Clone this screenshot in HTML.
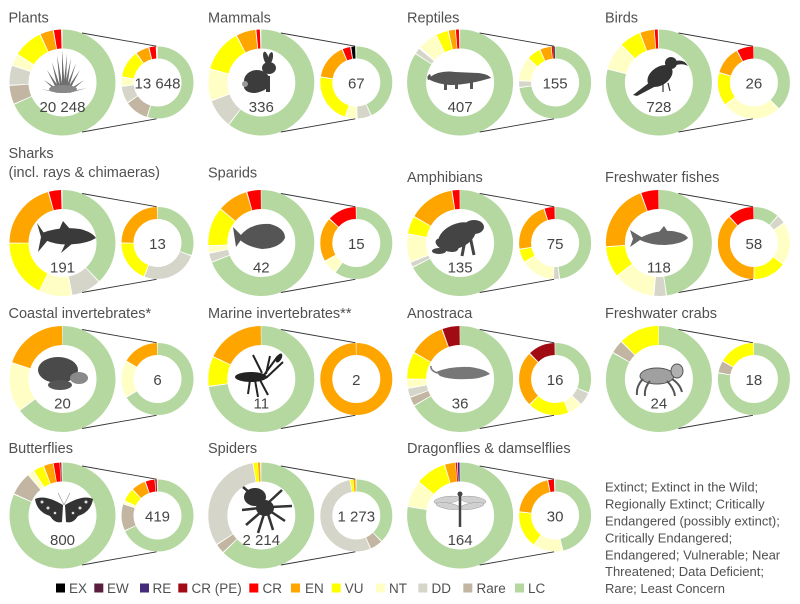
<!DOCTYPE html>
<html><head><meta charset="utf-8"><style>
html,body{margin:0;padding:0;background:#fff;}
svg{display:block;font-family:"Liberation Sans",sans-serif;}
.B circle{fill:none;stroke-width:25.03}
.S circle{fill:none;stroke-width:22.92}
.t{font-size:14.5px;fill:#505050}
.n{font-size:15px;fill:#454545;text-anchor:middle}
.l{font-size:13.5px;fill:#505050}
.d{font-size:13px;fill:#505050}
.ln{stroke:#333;stroke-width:0.9;fill:none}
</style></head><body>
<svg width="800" height="604" viewBox="0 0 800 604" xmlns="http://www.w3.org/2000/svg">
<rect width="800" height="604" fill="#fff"/>

<!-- connector lines -->
<g class="ln">
<path d="M82,33 L156.5,46.2 M82,132 L156.5,118.8"/>
<path d="M280.8,33 L355.3,46.2 M280.8,132 L355.3,118.8"/>
<path d="M479.6,33 L554.1,46.2 M479.6,132 L554.1,118.8"/>
<path d="M678.4,33 L752.9,46.2 M678.4,132 L752.9,118.8"/>
<path d="M82,193.5 L156.5,206.7 M82,292.5 L156.5,279.3"/>
<path d="M280.8,193.5 L355.3,206.7 M280.8,292.5 L355.3,279.3"/>
<path d="M479.6,193.5 L554.1,206.7 M479.6,292.5 L554.1,279.3"/>
<path d="M678.4,193.5 L752.9,206.7 M678.4,292.5 L752.9,279.3"/>
<path d="M82,329.5 L156.5,342.7 M82,428.5 L156.5,415.3"/>
<path d="M280.8,329.5 L355.3,342.7 M280.8,428.5 L355.3,415.3"/>
<path d="M479.6,329.5 L554.1,342.7 M479.6,428.5 L554.1,415.3"/>
<path d="M678.4,329.5 L752.9,342.7 M678.4,428.5 L752.9,415.3"/>
<path d="M82,466 L156.5,479.2 M82,565 L156.5,551.8"/>
<path d="M280.8,466 L355.3,479.2 M280.8,565 L355.3,551.8"/>
<path d="M479.6,466 L554.1,479.2 M479.6,565 L554.1,551.8"/>
</g>

<!-- ROW 1 -->
<g class="B" transform="translate(62.5,82.5) scale(-0.75922,0.75922) rotate(-90)">
<circle r="57.2958" stroke="#f00" stroke-dasharray="7.8 400" stroke-dashoffset="-1.6"/>
<circle r="57.2958" stroke="#ffa500" stroke-dasharray="13.8 400" stroke-dashoffset="-10.6"/>
<circle r="57.2958" stroke="#ff0" stroke-dasharray="31.8 400" stroke-dashoffset="-25.6"/>
<circle r="57.2958" stroke="#ffffc5" stroke-dasharray="11.8 400" stroke-dashoffset="-58.6"/>
<circle r="57.2958" stroke="#d5d5c9" stroke-dasharray="20.8 400" stroke-dashoffset="-71.6"/>
<circle r="57.2958" stroke="#c2b6a3" stroke-dasharray="19.8 400" stroke-dashoffset="-93.6"/>
<circle r="57.2958" stroke="#b4d8a0" stroke-dasharray="244.8 400" stroke-dashoffset="-114.6"/>
</g>
<g class="S" transform="translate(157.5,82.5) scale(-0.5236,0.5236) rotate(-90)">
<circle r="57.2958" stroke="#f00" stroke-dasharray="10.2 400" stroke-dashoffset="-2.9"/>
<circle r="57.2958" stroke="#ffa500" stroke-dasharray="20.2 400" stroke-dashoffset="-14.9"/>
<circle r="57.2958" stroke="#ff0" stroke-dasharray="43.2 400" stroke-dashoffset="-36.9"/>
<circle r="57.2958" stroke="#ffffc5" stroke-dasharray="13.2 400" stroke-dashoffset="-81.9"/>
<circle r="57.2958" stroke="#d5d5c9" stroke-dasharray="26.2 400" stroke-dashoffset="-96.9"/>
<circle r="57.2958" stroke="#c2b6a3" stroke-dasharray="37.2 400" stroke-dashoffset="-124.9"/>
<circle r="57.2958" stroke="#b4d8a0" stroke-dasharray="195.2 400" stroke-dashoffset="-163.9"/>
</g>
<g class="B" transform="translate(261.3,82.5) scale(-0.75922,0.75922) rotate(-90)">
<circle r="57.2958" stroke="#f00" stroke-dasharray="3.8 400" stroke-dashoffset="-1.6"/>
<circle r="57.2958" stroke="#ffa500" stroke-dasharray="20.8 400" stroke-dashoffset="-6.6"/>
<circle r="57.2958" stroke="#ff0" stroke-dasharray="45.8 400" stroke-dashoffset="-28.6"/>
<circle r="57.2958" stroke="#ffffc5" stroke-dasharray="33.8 400" stroke-dashoffset="-75.6"/>
<circle r="57.2958" stroke="#d5d5c9" stroke-dasharray="30.8 400" stroke-dashoffset="-110.6"/>
<circle r="57.2958" stroke="#b4d8a0" stroke-dasharray="216.8 400" stroke-dashoffset="-142.6"/>
</g>
<g class="S" transform="translate(356.3,82.5) scale(-0.5236,0.5236) rotate(-90)">
<circle r="57.2958" stroke="#000" stroke-dasharray="6.2 400" stroke-dashoffset="-1.9"/>
<circle r="57.2958" stroke="#f00" stroke-dasharray="12.2 400" stroke-dashoffset="-9.9"/>
<circle r="57.2958" stroke="#ffa500" stroke-dasharray="56.2 400" stroke-dashoffset="-23.9"/>
<circle r="57.2958" stroke="#ff0" stroke-dasharray="79.2 400" stroke-dashoffset="-81.9"/>
<circle r="57.2958" stroke="#ffffc5" stroke-dasharray="17.2 400" stroke-dashoffset="-162.9"/>
<circle r="57.2958" stroke="#d5d5c9" stroke-dasharray="21.2 400" stroke-dashoffset="-181.9"/>
<circle r="57.2958" stroke="#b4d8a0" stroke-dasharray="154.2 400" stroke-dashoffset="-204.9"/>
</g>
<g class="B" transform="translate(460.1,82.5) scale(-0.75922,0.75922) rotate(-90)">
<circle r="57.2958" stroke="#f00" stroke-dasharray="3.4 400" stroke-dashoffset="-1.3"/>
<circle r="57.2958" stroke="#ffa500" stroke-dasharray="6.8 400" stroke-dashoffset="-5.6"/>
<circle r="57.2958" stroke="#ff0" stroke-dasharray="12.8 400" stroke-dashoffset="-13.6"/>
<circle r="57.2958" stroke="#ffffc5" stroke-dasharray="20.8 400" stroke-dashoffset="-27.6"/>
<circle r="57.2958" stroke="#d5d5c9" stroke-dasharray="5.8 400" stroke-dashoffset="-50.6"/>
<circle r="57.2958" stroke="#b4d8a0" stroke-dasharray="301.8 400" stroke-dashoffset="-57.6"/>
</g>
<g class="S" transform="translate(555.1,82.5) scale(-0.5236,0.5236) rotate(-90)">
<circle r="57.2958" stroke="#000" stroke-dasharray="2.0 400" stroke-dashoffset="-0.8"/>
<circle r="57.2958" stroke="#f00" stroke-dasharray="2.4 400" stroke-dashoffset="-3.3"/>
<circle r="57.2958" stroke="#ffa500" stroke-dasharray="17.2 400" stroke-dashoffset="-6.9"/>
<circle r="57.2958" stroke="#ff0" stroke-dasharray="21.2 400" stroke-dashoffset="-25.9"/>
<circle r="57.2958" stroke="#ffffc5" stroke-dasharray="37.2 400" stroke-dashoffset="-48.9"/>
<circle r="57.2958" stroke="#d5d5c9" stroke-dasharray="9.2 400" stroke-dashoffset="-87.9"/>
<circle r="57.2958" stroke="#b4d8a0" stroke-dasharray="260.2 400" stroke-dashoffset="-98.9"/>
</g>
<g class="B" transform="translate(658.9,82.5) scale(-0.75922,0.75922) rotate(-90)">
<circle r="57.2958" stroke="#f00" stroke-dasharray="3.4 400" stroke-dashoffset="-1.3"/>
<circle r="57.2958" stroke="#ffa500" stroke-dasharray="14.8 400" stroke-dashoffset="-5.6"/>
<circle r="57.2958" stroke="#ff0" stroke-dasharray="22.8 400" stroke-dashoffset="-21.6"/>
<circle r="57.2958" stroke="#ffffc5" stroke-dasharray="28.8 400" stroke-dashoffset="-45.6"/>
<circle r="57.2958" stroke="#b4d8a0" stroke-dasharray="283.8 400" stroke-dashoffset="-75.6"/>
</g>
<g class="S" transform="translate(753.9,82.5) scale(-0.5236,0.5236) rotate(-90)">
<circle r="57.2958" stroke="#f00" stroke-dasharray="26.2 400" stroke-dashoffset="-0.9"/>
<circle r="57.2958" stroke="#ffa500" stroke-dasharray="44.2 400" stroke-dashoffset="-28.9"/>
<circle r="57.2958" stroke="#ff0" stroke-dasharray="52.2 400" stroke-dashoffset="-74.9"/>
<circle r="57.2958" stroke="#ffffc5" stroke-dasharray="93.2 400" stroke-dashoffset="-128.9"/>
<circle r="57.2958" stroke="#b4d8a0" stroke-dasharray="135.2 400" stroke-dashoffset="-223.9"/>
</g>

<!-- ROW 2 -->
<g class="B" transform="translate(62.5,243) scale(-0.75922,0.75922) rotate(-90)">
<circle r="57.2958" stroke="#f00" stroke-dasharray="13.3 400" stroke-dashoffset="-1.6"/>
<circle r="57.2958" stroke="#ffa500" stroke-dasharray="73.3 400" stroke-dashoffset="-16.1"/>
<circle r="57.2958" stroke="#ff0" stroke-dasharray="62.8 400" stroke-dashoffset="-90.6"/>
<circle r="57.2958" stroke="#ffffc5" stroke-dasharray="34.8 400" stroke-dashoffset="-154.6"/>
<circle r="57.2958" stroke="#d5d5c9" stroke-dasharray="31.8 400" stroke-dashoffset="-190.6"/>
<circle r="57.2958" stroke="#b4d8a0" stroke-dasharray="135.8 400" stroke-dashoffset="-223.6"/>
</g>
<g class="S" transform="translate(157.5,243) scale(-0.5236,0.5236) rotate(-90)">
<circle r="57.2958" stroke="#ffa500" stroke-dasharray="88.2 400" stroke-dashoffset="-0.9"/>
<circle r="57.2958" stroke="#ff0" stroke-dasharray="66.2 400" stroke-dashoffset="-90.9"/>
<circle r="57.2958" stroke="#d5d5c9" stroke-dasharray="89.2 400" stroke-dashoffset="-158.9"/>
<circle r="57.2958" stroke="#b4d8a0" stroke-dasharray="109.2 400" stroke-dashoffset="-249.9"/>
</g>
<g class="B" transform="translate(261.3,243) scale(-0.75922,0.75922) rotate(-90)">
<circle r="57.2958" stroke="#f00" stroke-dasharray="14.8 400" stroke-dashoffset="-0.6"/>
<circle r="57.2958" stroke="#ffa500" stroke-dasharray="32.8 400" stroke-dashoffset="-16.6"/>
<circle r="57.2958" stroke="#ff0" stroke-dasharray="41.8 400" stroke-dashoffset="-50.6"/>
<circle r="57.2958" stroke="#ffffc5" stroke-dasharray="6.8 400" stroke-dashoffset="-93.6"/>
<circle r="57.2958" stroke="#d5d5c9" stroke-dasharray="8.8 400" stroke-dashoffset="-101.6"/>
<circle r="57.2958" stroke="#b4d8a0" stroke-dasharray="247.8 400" stroke-dashoffset="-111.6"/>
</g>
<g class="S" transform="translate(356.3,243) scale(-0.5236,0.5236) rotate(-90)">
<circle r="57.2958" stroke="#f00" stroke-dasharray="46.2 400" stroke-dashoffset="-0.9"/>
<circle r="57.2958" stroke="#ffa500" stroke-dasharray="70.2 400" stroke-dashoffset="-48.9"/>
<circle r="57.2958" stroke="#ffffc5" stroke-dasharray="22.2 400" stroke-dashoffset="-120.9"/>
<circle r="57.2958" stroke="#b4d8a0" stroke-dasharray="214.2 400" stroke-dashoffset="-144.9"/>
</g>
<g class="B" transform="translate(460.1,243) scale(-0.75922,0.75922) rotate(-90)">
<circle r="57.2958" stroke="#f00" stroke-dasharray="7.8 400" stroke-dashoffset="-0.6"/>
<circle r="57.2958" stroke="#ffa500" stroke-dasharray="49.8 400" stroke-dashoffset="-9.6"/>
<circle r="57.2958" stroke="#ff0" stroke-dasharray="18.8 400" stroke-dashoffset="-60.6"/>
<circle r="57.2958" stroke="#ffffc5" stroke-dasharray="29.8 400" stroke-dashoffset="-80.6"/>
<circle r="57.2958" stroke="#d5d5c9" stroke-dasharray="4.8 400" stroke-dashoffset="-111.6"/>
<circle r="57.2958" stroke="#b4d8a0" stroke-dasharray="241.8 400" stroke-dashoffset="-117.6"/>
</g>
<g class="S" transform="translate(555.1,243) scale(-0.5236,0.5236) rotate(-90)">
<circle r="57.2958" stroke="#f00" stroke-dasharray="16.2 400" stroke-dashoffset="-0.9"/>
<circle r="57.2958" stroke="#ffa500" stroke-dasharray="80.2 400" stroke-dashoffset="-18.9"/>
<circle r="57.2958" stroke="#ff0" stroke-dasharray="20.2 400" stroke-dashoffset="-100.9"/>
<circle r="57.2958" stroke="#ffffc5" stroke-dasharray="53.2 400" stroke-dashoffset="-122.9"/>
<circle r="57.2958" stroke="#d5d5c9" stroke-dasharray="8.2 400" stroke-dashoffset="-177.9"/>
<circle r="57.2958" stroke="#b4d8a0" stroke-dasharray="171.2 400" stroke-dashoffset="-187.9"/>
</g>
<g class="B" transform="translate(658.9,243) scale(-0.75922,0.75922) rotate(-90)">
<circle r="57.2958" stroke="#f00" stroke-dasharray="18.8 400" stroke-dashoffset="-0.6"/>
<circle r="57.2958" stroke="#ffa500" stroke-dasharray="72.8 400" stroke-dashoffset="-20.6"/>
<circle r="57.2958" stroke="#ff0" stroke-dasharray="32.8 400" stroke-dashoffset="-94.6"/>
<circle r="57.2958" stroke="#ffffc5" stroke-dasharray="44.8 400" stroke-dashoffset="-128.6"/>
<circle r="57.2958" stroke="#d5d5c9" stroke-dasharray="12.8 400" stroke-dashoffset="-174.6"/>
<circle r="57.2958" stroke="#b4d8a0" stroke-dasharray="170.8 400" stroke-dashoffset="-188.6"/>
</g>
<g class="S" transform="translate(753.9,243) scale(-0.5236,0.5236) rotate(-90)">
<circle r="57.2958" stroke="#f00" stroke-dasharray="41.2 400" stroke-dashoffset="-0.9"/>
<circle r="57.2958" stroke="#ffa500" stroke-dasharray="135.2 400" stroke-dashoffset="-43.9"/>
<circle r="57.2958" stroke="#ff0" stroke-dasharray="52.2 400" stroke-dashoffset="-180.9"/>
<circle r="57.2958" stroke="#ffffc5" stroke-dasharray="67.2 400" stroke-dashoffset="-234.9"/>
<circle r="57.2958" stroke="#d5d5c9" stroke-dasharray="13.2 400" stroke-dashoffset="-303.9"/>
<circle r="57.2958" stroke="#b4d8a0" stroke-dasharray="40.2 400" stroke-dashoffset="-318.9"/>
</g>

<!-- ROW 3 -->
<g class="B" transform="translate(62.5,379) scale(-0.75922,0.75922) rotate(-90)">
<circle r="57.2958" stroke="#ffa500" stroke-dasharray="70.8 400" stroke-dashoffset="-0.6"/>
<circle r="57.2958" stroke="#ffffc5" stroke-dasharray="52.8 400" stroke-dashoffset="-72.6"/>
<circle r="57.2958" stroke="#b4d8a0" stroke-dasharray="232.8 400" stroke-dashoffset="-126.6"/>
</g>
<g class="S" transform="translate(157.5,379) scale(-0.5236,0.5236) rotate(-90)">
<circle r="57.2958" stroke="#ffa500" stroke-dasharray="58.2 400" stroke-dashoffset="-0.9"/>
<circle r="57.2958" stroke="#ffffc5" stroke-dasharray="58.2 400" stroke-dashoffset="-60.9"/>
<circle r="57.2958" stroke="#b4d8a0" stroke-dasharray="238.2 400" stroke-dashoffset="-120.9"/>
</g>
<g class="B" transform="translate(261.3,379) scale(-0.75922,0.75922) rotate(-90)">
<circle r="57.2958" stroke="#ffa500" stroke-dasharray="63.8 400" stroke-dashoffset="-0.6"/>
<circle r="57.2958" stroke="#ff0" stroke-dasharray="31.8 400" stroke-dashoffset="-65.6"/>
<circle r="57.2958" stroke="#b4d8a0" stroke-dasharray="260.8 400" stroke-dashoffset="-98.6"/>
</g>
<g class="S" transform="translate(356.3,379) scale(-0.5236,0.5236) rotate(-90)">
<circle r="57.2958" stroke="#ffa500" stroke-dasharray="358.2 400" stroke-dashoffset="-0.9"/>
</g>
<g class="B" transform="translate(460.1,379) scale(-0.75922,0.75922) rotate(-90)">
<circle r="57.2958" stroke="#a00b14" stroke-dasharray="18.8 400" stroke-dashoffset="-0.6"/>
<circle r="57.2958" stroke="#ffa500" stroke-dasharray="38.8 400" stroke-dashoffset="-20.6"/>
<circle r="57.2958" stroke="#ff0" stroke-dasharray="28.8 400" stroke-dashoffset="-60.6"/>
<circle r="57.2958" stroke="#ffffc5" stroke-dasharray="8.8 400" stroke-dashoffset="-90.6"/>
<circle r="57.2958" stroke="#d5d5c9" stroke-dasharray="8.8 400" stroke-dashoffset="-100.6"/>
<circle r="57.2958" stroke="#c2b6a3" stroke-dasharray="8.8 400" stroke-dashoffset="-110.6"/>
<circle r="57.2958" stroke="#b4d8a0" stroke-dasharray="238.8 400" stroke-dashoffset="-120.6"/>
</g>
<g class="S" transform="translate(555.1,379) scale(-0.5236,0.5236) rotate(-90)">
<circle r="57.2958" stroke="#a00b14" stroke-dasharray="43.2 400" stroke-dashoffset="-0.9"/>
<circle r="57.2958" stroke="#ffa500" stroke-dasharray="88.2 400" stroke-dashoffset="-45.9"/>
<circle r="57.2958" stroke="#ff0" stroke-dasharray="65.2 400" stroke-dashoffset="-135.9"/>
<circle r="57.2958" stroke="#ffffc5" stroke-dasharray="21.2 400" stroke-dashoffset="-202.9"/>
<circle r="57.2958" stroke="#d5d5c9" stroke-dasharray="20.2 400" stroke-dashoffset="-225.9"/>
<circle r="57.2958" stroke="#b4d8a0" stroke-dasharray="111.2 400" stroke-dashoffset="-247.9"/>
</g>
<g class="B" transform="translate(658.9,379) scale(-0.75922,0.75922) rotate(-90)">
<circle r="57.2958" stroke="#ff0" stroke-dasharray="43.8 400" stroke-dashoffset="-0.6"/>
<circle r="57.2958" stroke="#c2b6a3" stroke-dasharray="13.8 400" stroke-dashoffset="-45.6"/>
<circle r="57.2958" stroke="#b4d8a0" stroke-dasharray="298.8 400" stroke-dashoffset="-60.6"/>
</g>
<g class="S" transform="translate(753.9,379) scale(-0.5236,0.5236) rotate(-90)">
<circle r="57.2958" stroke="#ff0" stroke-dasharray="58.2 400" stroke-dashoffset="-0.9"/>
<circle r="57.2958" stroke="#c2b6a3" stroke-dasharray="18.2 400" stroke-dashoffset="-60.9"/>
<circle r="57.2958" stroke="#b4d8a0" stroke-dasharray="278.2 400" stroke-dashoffset="-80.9"/>
</g>

<!-- ROW 4 -->
<g class="B" transform="translate(62.5,515.5) scale(-0.75922,0.75922) rotate(-90)">
<circle r="57.2958" stroke="#a00b14" stroke-dasharray="1.4 400" stroke-dashoffset="-1.3"/>
<circle r="57.2958" stroke="#f00" stroke-dasharray="6.4 400" stroke-dashoffset="-3.3"/>
<circle r="57.2958" stroke="#ffa500" stroke-dasharray="9.8 400" stroke-dashoffset="-10.6"/>
<circle r="57.2958" stroke="#ff0" stroke-dasharray="10.8 400" stroke-dashoffset="-21.6"/>
<circle r="57.2958" stroke="#ffffc5" stroke-dasharray="5.8 400" stroke-dashoffset="-33.6"/>
<circle r="57.2958" stroke="#c2b6a3" stroke-dasharray="24.8 400" stroke-dashoffset="-40.6"/>
<circle r="57.2958" stroke="#b4d8a0" stroke-dasharray="292.8 400" stroke-dashoffset="-66.6"/>
</g>
<g class="S" transform="translate(157.5,515.5) scale(-0.5236,0.5236) rotate(-90)">
<circle r="57.2958" stroke="#a00b14" stroke-dasharray="2.4 400" stroke-dashoffset="-1.3"/>
<circle r="57.2958" stroke="#f00" stroke-dasharray="14.2 400" stroke-dashoffset="-4.9"/>
<circle r="57.2958" stroke="#ffa500" stroke-dasharray="22.2 400" stroke-dashoffset="-20.9"/>
<circle r="57.2958" stroke="#ff0" stroke-dasharray="20.2 400" stroke-dashoffset="-44.9"/>
<circle r="57.2958" stroke="#ffffc5" stroke-dasharray="3.2 400" stroke-dashoffset="-66.9"/>
<circle r="57.2958" stroke="#c2b6a3" stroke-dasharray="42.2 400" stroke-dashoffset="-71.9"/>
<circle r="57.2958" stroke="#b4d8a0" stroke-dasharray="243.2 400" stroke-dashoffset="-115.9"/>
</g>
<g class="B" transform="translate(261.3,515.5) scale(-0.75922,0.75922) rotate(-90)">
<circle r="57.2958" stroke="#ffa500" stroke-dasharray="2.4 400" stroke-dashoffset="-1.3"/>
<circle r="57.2958" stroke="#ff0" stroke-dasharray="4.4 400" stroke-dashoffset="-4.3"/>
<circle r="57.2958" stroke="#d5d5c9" stroke-dasharray="112.8 400" stroke-dashoffset="-9.6"/>
<circle r="57.2958" stroke="#c2b6a3" stroke-dasharray="9.8 400" stroke-dashoffset="-123.6"/>
<circle r="57.2958" stroke="#b4d8a0" stroke-dasharray="224.8 400" stroke-dashoffset="-134.6"/>
</g>
<g class="S" transform="translate(356.3,515.5) scale(-0.5236,0.5236) rotate(-90)">
<circle r="57.2958" stroke="#ffa500" stroke-dasharray="3.2 400" stroke-dashoffset="-1.4"/>
<circle r="57.2958" stroke="#ff0" stroke-dasharray="4.2 400" stroke-dashoffset="-5.4"/>
<circle r="57.2958" stroke="#d5d5c9" stroke-dasharray="191.2 400" stroke-dashoffset="-10.9"/>
<circle r="57.2958" stroke="#c2b6a3" stroke-dasharray="19.2 400" stroke-dashoffset="-203.9"/>
<circle r="57.2958" stroke="#b4d8a0" stroke-dasharray="134.2 400" stroke-dashoffset="-224.9"/>
</g>
<g class="B" transform="translate(460.1,515.5) scale(-0.75922,0.75922) rotate(-90)">
<circle r="57.2958" stroke="#3d2b7d" stroke-dasharray="2.1 400" stroke-dashoffset="-0.6"/>
<circle r="57.2958" stroke="#f00" stroke-dasharray="1.4 400" stroke-dashoffset="-3.5"/>
<circle r="57.2958" stroke="#ffa500" stroke-dasharray="11.0 400" stroke-dashoffset="-5.5"/>
<circle r="57.2958" stroke="#ff0" stroke-dasharray="32.8 400" stroke-dashoffset="-17.6"/>
<circle r="57.2958" stroke="#ffffc5" stroke-dasharray="27.8 400" stroke-dashoffset="-51.6"/>
<circle r="57.2958" stroke="#b4d8a0" stroke-dasharray="278.8 400" stroke-dashoffset="-80.6"/>
</g>
<g class="S" transform="translate(555.1,515.5) scale(-0.5236,0.5236) rotate(-90)">
<circle r="57.2958" stroke="#f00" stroke-dasharray="9.2 400" stroke-dashoffset="-1.9"/>
<circle r="57.2958" stroke="#ffa500" stroke-dasharray="70.2 400" stroke-dashoffset="-12.9"/>
<circle r="57.2958" stroke="#ff0" stroke-dasharray="58.2 400" stroke-dashoffset="-84.9"/>
<circle r="57.2958" stroke="#ffffc5" stroke-dasharray="46.2 400" stroke-dashoffset="-144.9"/>
<circle r="57.2958" stroke="#b4d8a0" stroke-dasharray="166.2 400" stroke-dashoffset="-192.9"/>
</g>

<!-- ANIMALS -->
<g fill="#6e6e6e">
<polygon points="56,91 44,80 59,90"/>
<polygon points="57,90 47,70 60,89"/>
<polygon points="58,90 52,62 61,89"/>
<polygon points="60,90 57,55 63,89"/>
<polygon points="62,90 62,50 65,90"/>
<polygon points="63,90 67,54 66,90"/>
<polygon points="64,90 71,58 67,90"/>
<polygon points="65,90 76,63 68,90"/>
<polygon points="66,90 80,70 69,91"/>
<polygon points="67,91 84,80 70,92"/>
<polygon points="68,92 87,88 69,93"/>
<polygon points="58,92 41,89 58,93"/>
<ellipse cx="63" cy="89" rx="14" ry="4" fill="#888"/>
</g>
<g fill="#3c3c3c">
<ellipse cx="257" cy="81" rx="13" ry="11"/>
<ellipse cx="254" cy="87" rx="10" ry="6"/>
<ellipse cx="269" cy="68" rx="7" ry="6"/>
<ellipse cx="266" cy="58" rx="2.5" ry="6.5" transform="rotate(-15 266 58)"/>
<ellipse cx="270.5" cy="58" rx="2.3" ry="6" transform="rotate(12 270.5 58)"/>
<rect x="266" y="76" width="4" height="16"/>
<circle cx="245" cy="84" r="3" fill="#999"/>
</g>
<g fill="#555">
<path d="M430,77 Q440,70 455,72 L478,73 Q488,74 491,78 L480,81 Q462,85 450,85 Q438,84 430,80 Z"/>
<path d="M428,80 Q426,76 430,74 L432,79 Z"/>
<rect x="444" y="83" width="3" height="7"/>
<rect x="470" y="82" width="3" height="7"/>
<rect x="455" y="84" width="3" height="5"/>
</g>
<g fill="#333">
<ellipse cx="660" cy="76" rx="14" ry="9" transform="rotate(-35 660 76)"/>
<circle cx="671" cy="63" r="6"/>
<path d="M676,61 Q684,59 688,66 Q683,63 676,65 Z"/>
<polygon points="650,82 633,95 637,96 656,86"/>
<path d="M663,84 L663,92 M668,83 L670,91" stroke="#333" stroke-width="1.2"/>
</g>
<g fill="#3a3a3a">
<path d="M42,233 Q60,226 80,229 Q92,232 96,238 Q88,243 75,244 Q58,246 45,240 Z"/>
<polygon points="59,230 63,221 70,229"/>
<polygon points="46,236 37,223 41,237 38,252 48,240"/>
<polygon points="66,242 61,253 73,243"/>
</g>
<g fill="#555">
<path d="M240,236 Q250,223 270,224 Q285,228 285,238 Q280,248 262,249 Q248,247 240,240 Z"/>
<polygon points="243,237 233,227 236,247"/>
</g>
<g fill="#444">
<ellipse cx="457" cy="236" rx="20" ry="12" transform="rotate(-25 457 236)"/>
<ellipse cx="474" cy="227" rx="10" ry="7"/>
<ellipse cx="447" cy="245" rx="12" ry="6" transform="rotate(20 447 245)"/>
<path d="M470,236 L474,255 M465,240 L462,256" stroke="#444" stroke-width="3"/>
<ellipse cx="439" cy="251" rx="7" ry="3"/>
</g>
<g fill="#666">
<path d="M640,238 Q655,230 672,231 Q685,233 688,238 Q682,244 665,245 Q650,245 640,240 Z"/>
<polygon points="643,238 630,230 633,239 630,247"/>
<polygon points="659,232 664,226 668,232"/>
</g>
<g>
<ellipse cx="58" cy="370" rx="20" ry="13" fill="#4a4a4a"/>
<ellipse cx="79" cy="378" rx="9" ry="6" fill="#8a8a8a"/>
<ellipse cx="60" cy="385" rx="12" ry="5" fill="#555"/>
</g>
<g stroke="#222" fill="#222">
<ellipse cx="251" cy="377" rx="16" ry="5" stroke="none"/>
<path d="M264,375 L278,356 M266,378 L283,362 M255,380 L258,397 M260,380 L268,395 M250,380 L248,394 M262,373 L253,355 M266,374 L270,356" stroke-width="2" fill="none"/>
<ellipse cx="279" cy="358" rx="2.5" ry="5" transform="rotate(30 279 358)" stroke="none"/>
</g>
<g fill="#777">
<path d="M436,372 Q450,366 470,367 Q485,369 490,374 Q480,379 468,379 Q450,380 440,376 Z"/>
<path d="M437,373 Q430,370 431,366" stroke="#777" stroke-width="1.5" fill="none"/>
</g>
<g stroke="#555" stroke-width="2" fill="none">
<ellipse cx="657" cy="376" rx="17" ry="8" fill="#a0a0a0" stroke-width="1"/>
<ellipse cx="677" cy="371" rx="6" ry="7" fill="#b0b0b0" stroke-width="1"/>
<path d="M643,379 Q636,386 637,395 M650,381 Q644,388 645,396 M667,381 Q674,388 675,396 M672,379 Q680,384 682,392"/>
</g>
<g fill="#333">
<path d="M63,505 Q45,494 35,499 Q37,512 50,516 Q55,524 62,522 Z"/>
<path d="M65,505 Q83,494 93,499 Q91,512 78,516 Q73,524 66,522 Z"/>
<g fill="#ddd"><circle cx="42" cy="502" r="1.5"/><circle cx="48" cy="508" r="1.5"/><circle cx="86" cy="502" r="1.5"/><circle cx="80" cy="508" r="1.5"/><circle cx="55" cy="513" r="1.3"/><circle cx="73" cy="513" r="1.3"/></g>
<path d="M64,505 L58,493 M64,505 L70,493" stroke="#999" stroke-width="0.7"/>
</g>
<g fill="#333" stroke="#333">
<ellipse cx="255" cy="497" rx="11" ry="9" stroke="none"/>
<ellipse cx="265" cy="508" rx="9" ry="8" stroke="none"/>
<path d="M260,508 L242,510 M261,512 L246,525 M264,514 L258,533 M268,514 L273,530 M270,511 L285,521 M271,507 L292,506 M268,503 L282,490 M250,493 L243,487" stroke-width="2.5" fill="none"/>
</g>
<g>
<ellipse cx="447" cy="500" rx="13" ry="3.5" transform="rotate(-8 447 500)" fill="#d0d0d0" stroke="#999" stroke-width="0.5"/>
<ellipse cx="473" cy="500" rx="13" ry="3.5" transform="rotate(8 473 500)" fill="#d0d0d0" stroke="#999" stroke-width="0.5"/>
<ellipse cx="448" cy="506" rx="12" ry="3" transform="rotate(10 448 506)" fill="#d0d0d0" stroke="#999" stroke-width="0.5"/>
<ellipse cx="472" cy="506" rx="12" ry="3" transform="rotate(-10 472 506)" fill="#d0d0d0" stroke="#999" stroke-width="0.5"/>
<path d="M460,495 L460,527" stroke="#444" stroke-width="2.5"/>
<circle cx="460" cy="494" r="2.5" fill="#444"/>
</g>

<!-- NUMBERS -->
<g class="n">
<text x="62.5" y="112">20 248</text><text x="157.5" y="88.5">13 648</text>
<text x="261.3" y="112">336</text><text x="356.3" y="88.5">67</text>
<text x="460.1" y="112">407</text><text x="555.1" y="88.5">155</text>
<text x="658.9" y="112">728</text><text x="753.9" y="88.5">26</text>
<text x="62.5" y="272.5">191</text><text x="157.5" y="249">13</text>
<text x="261.3" y="272.5">42</text><text x="356.3" y="249">15</text>
<text x="460.1" y="272.5">135</text><text x="555.1" y="249">75</text>
<text x="658.9" y="272.5">118</text><text x="753.9" y="249">58</text>
<text x="62.5" y="408.5">20</text><text x="157.5" y="385">6</text>
<text x="261.3" y="408.5">11</text><text x="356.3" y="385">2</text>
<text x="460.1" y="408.5">36</text><text x="555.1" y="385">16</text>
<text x="658.9" y="408.5">24</text><text x="753.9" y="385">18</text>
<text x="62.5" y="545">800</text><text x="157.5" y="521.5">419</text>
<text x="261.3" y="545">2 214</text><text x="356.3" y="521.5">1 273</text>
<text x="460.1" y="545">164</text><text x="555.1" y="521.5">30</text>
</g>

<!-- TITLES -->
<g class="t">
<text x="8.5" y="22.5">Plants</text>
<text x="208" y="22.5">Mammals</text>
<text x="407" y="22.5">Reptiles</text>
<text x="605" y="22.5">Birds</text>
<text x="8.5" y="158">Sharks</text>
<text x="8.5" y="177">(incl. rays &amp; chimaeras)</text>
<text x="208" y="177.5">Sparids</text>
<text x="407" y="182">Amphibians</text>
<text x="605" y="182">Freshwater fishes</text>
<text x="8.5" y="318">Coastal invertebrates*</text>
<text x="208" y="318">Marine invertebrates**</text>
<text x="407" y="318">Anostraca</text>
<text x="605" y="318">Freshwater crabs</text>
<text x="8.5" y="453">Butterflies</text>
<text x="208" y="453">Spiders</text>
<text x="407" y="453">Dragonflies &amp; damselflies</text>
</g>

<!-- LEGEND -->
<g>
<rect x="56" y="583.5" width="9" height="9" fill="#000"/>
<rect x="94.3" y="583.5" width="9" height="9" fill="#5a1e3c"/>
<rect x="140" y="583.5" width="9" height="9" fill="#442a7a"/>
<rect x="178.3" y="583.5" width="9" height="9" fill="#a00b14"/>
<rect x="249.3" y="583.5" width="9" height="9" fill="#f00"/>
<rect x="291" y="583.5" width="9" height="9" fill="#ffa500"/>
<rect x="331.7" y="583.5" width="9" height="9" fill="#ff0"/>
<rect x="376" y="583.5" width="9" height="9" fill="#ffffc5"/>
<rect x="418.3" y="583.5" width="9" height="9" fill="#d5d5c9"/>
<rect x="463.3" y="583.5" width="9" height="9" fill="#c2b6a3"/>
<rect x="515" y="583.5" width="9" height="9" fill="#b4d8a0"/>
</g>
<g class="l">
<text x="69" y="593">EX</text>
<text x="107" y="593">EW</text>
<text x="152.5" y="593">RE</text>
<text x="191.5" y="593">CR (PE)</text>
<text x="262.5" y="593">CR</text>
<text x="305" y="593">EN</text>
<text x="344.8" y="593">VU</text>
<text x="389" y="593">NT</text>
<text x="431.5" y="593">DD</text>
<text x="476.5" y="593">Rare</text>
<text x="528" y="593">LC</text>
</g>

<!-- DESCRIPTION -->
<g class="d">
<text x="605" y="491.7">Extinct; Extinct in the Wild;</text>
<text x="605" y="508.6">Regionally Extinct; Critically</text>
<text x="605" y="525.5">Endangered (possibly extinct);</text>
<text x="605" y="542.4">Critically Endangered;</text>
<text x="605" y="559.3">Endangered; Vulnerable; Near</text>
<text x="605" y="576.2">Threatened; Data Deficient;</text>
<text x="605" y="593.1">Rare; Least Concern</text>
</g>
</svg>
</body></html>
